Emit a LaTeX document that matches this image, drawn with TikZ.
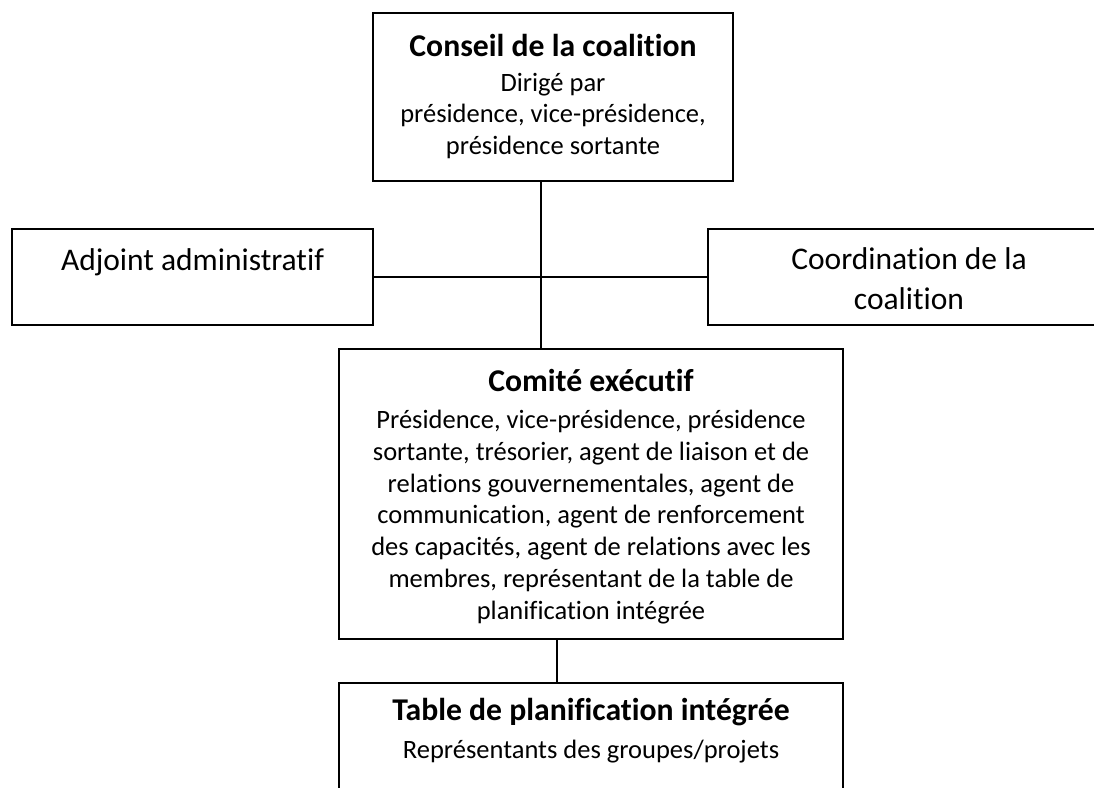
\documentclass[tikz,border=0pt]{standalone}
\usepackage{fontspec}
\setmainfont{Carlito}[Ligatures=NoCommon]
\begin{document}
\begin{tikzpicture}[x=1pt,y=-1pt,
  box/.style={draw=black,line width=1.6pt,rectangle,inner sep=0pt,fill=none},
  ttl/.style={font=\fontsize{31.7}{38}\selectfont\bfseries,inner sep=0pt,align=center},
  bdy/.style={font=\fontsize{26.5}{31.9}\selectfont,inner sep=0pt,align=center},
  big/.style={font=\fontsize{31.5}{40}\selectfont,inner sep=0pt,align=center},
  conn/.style={draw=black,line width=1.5pt}]
\useasboundingbox (0,0) rectangle (1094,787);
\clip (0,0) rectangle (1094,787);
\fill[white] (0,0) rectangle (1094,787);
% boxes
\node[box,minimum width=360pt,minimum height=168pt] (conseil) at (553,97) {};
\node[box,minimum width=361pt,minimum height=96pt] (adjoint) at (192.5,277) {};
\node[box,minimum width=402pt,minimum height=96pt] (coord) at (909,277) {};
\node[box,minimum width=504pt,minimum height=290pt] (comite) at (591,494) {};
\node[box,minimum width=504pt,minimum height=120pt] (table) at (591,743) {};
% texts
\node[ttl] (t1) at (553,45) {Conseil de la coalition};
\node[bdy] (b1) at (553,116) {Dirigé par\\présidence, vice-présidence,\\présidence sortante};
\node[big] (t2) at (192.5,262) {Adjoint administratif};
\node[big] (t3) at (909,279) {Coordination de la\\coalition};
\node[ttl] (t4) at (591,380) {Comité exécutif};
\node[bdy] (b4) at (591,517) {Présidence, vice-présidence, présidence\\sortante, trésorier, agent de liaison et de\\relations gouvernementales, agent de\\communication, agent de renforcement\\des capacités, agent de relations avec les\\membres, représentant de la table de\\planification intégrée};
\node[ttl] (t5) at (591,712) {Table de planification intégrée};
\node[bdy] (b5) at (591,752) {Représentants des groupes/projets};
% connectors
\coordinate (j1) at (541,277);
\coordinate (j2) at (557,661);
\draw[conn] (conseil.south -| j1) -- (comite.north -| j1);
\draw[conn] (adjoint.east) -- (coord.west);
\draw[conn] (comite.south -| j2) -- (table.north -| j2);
\end{tikzpicture}
\end{document}
